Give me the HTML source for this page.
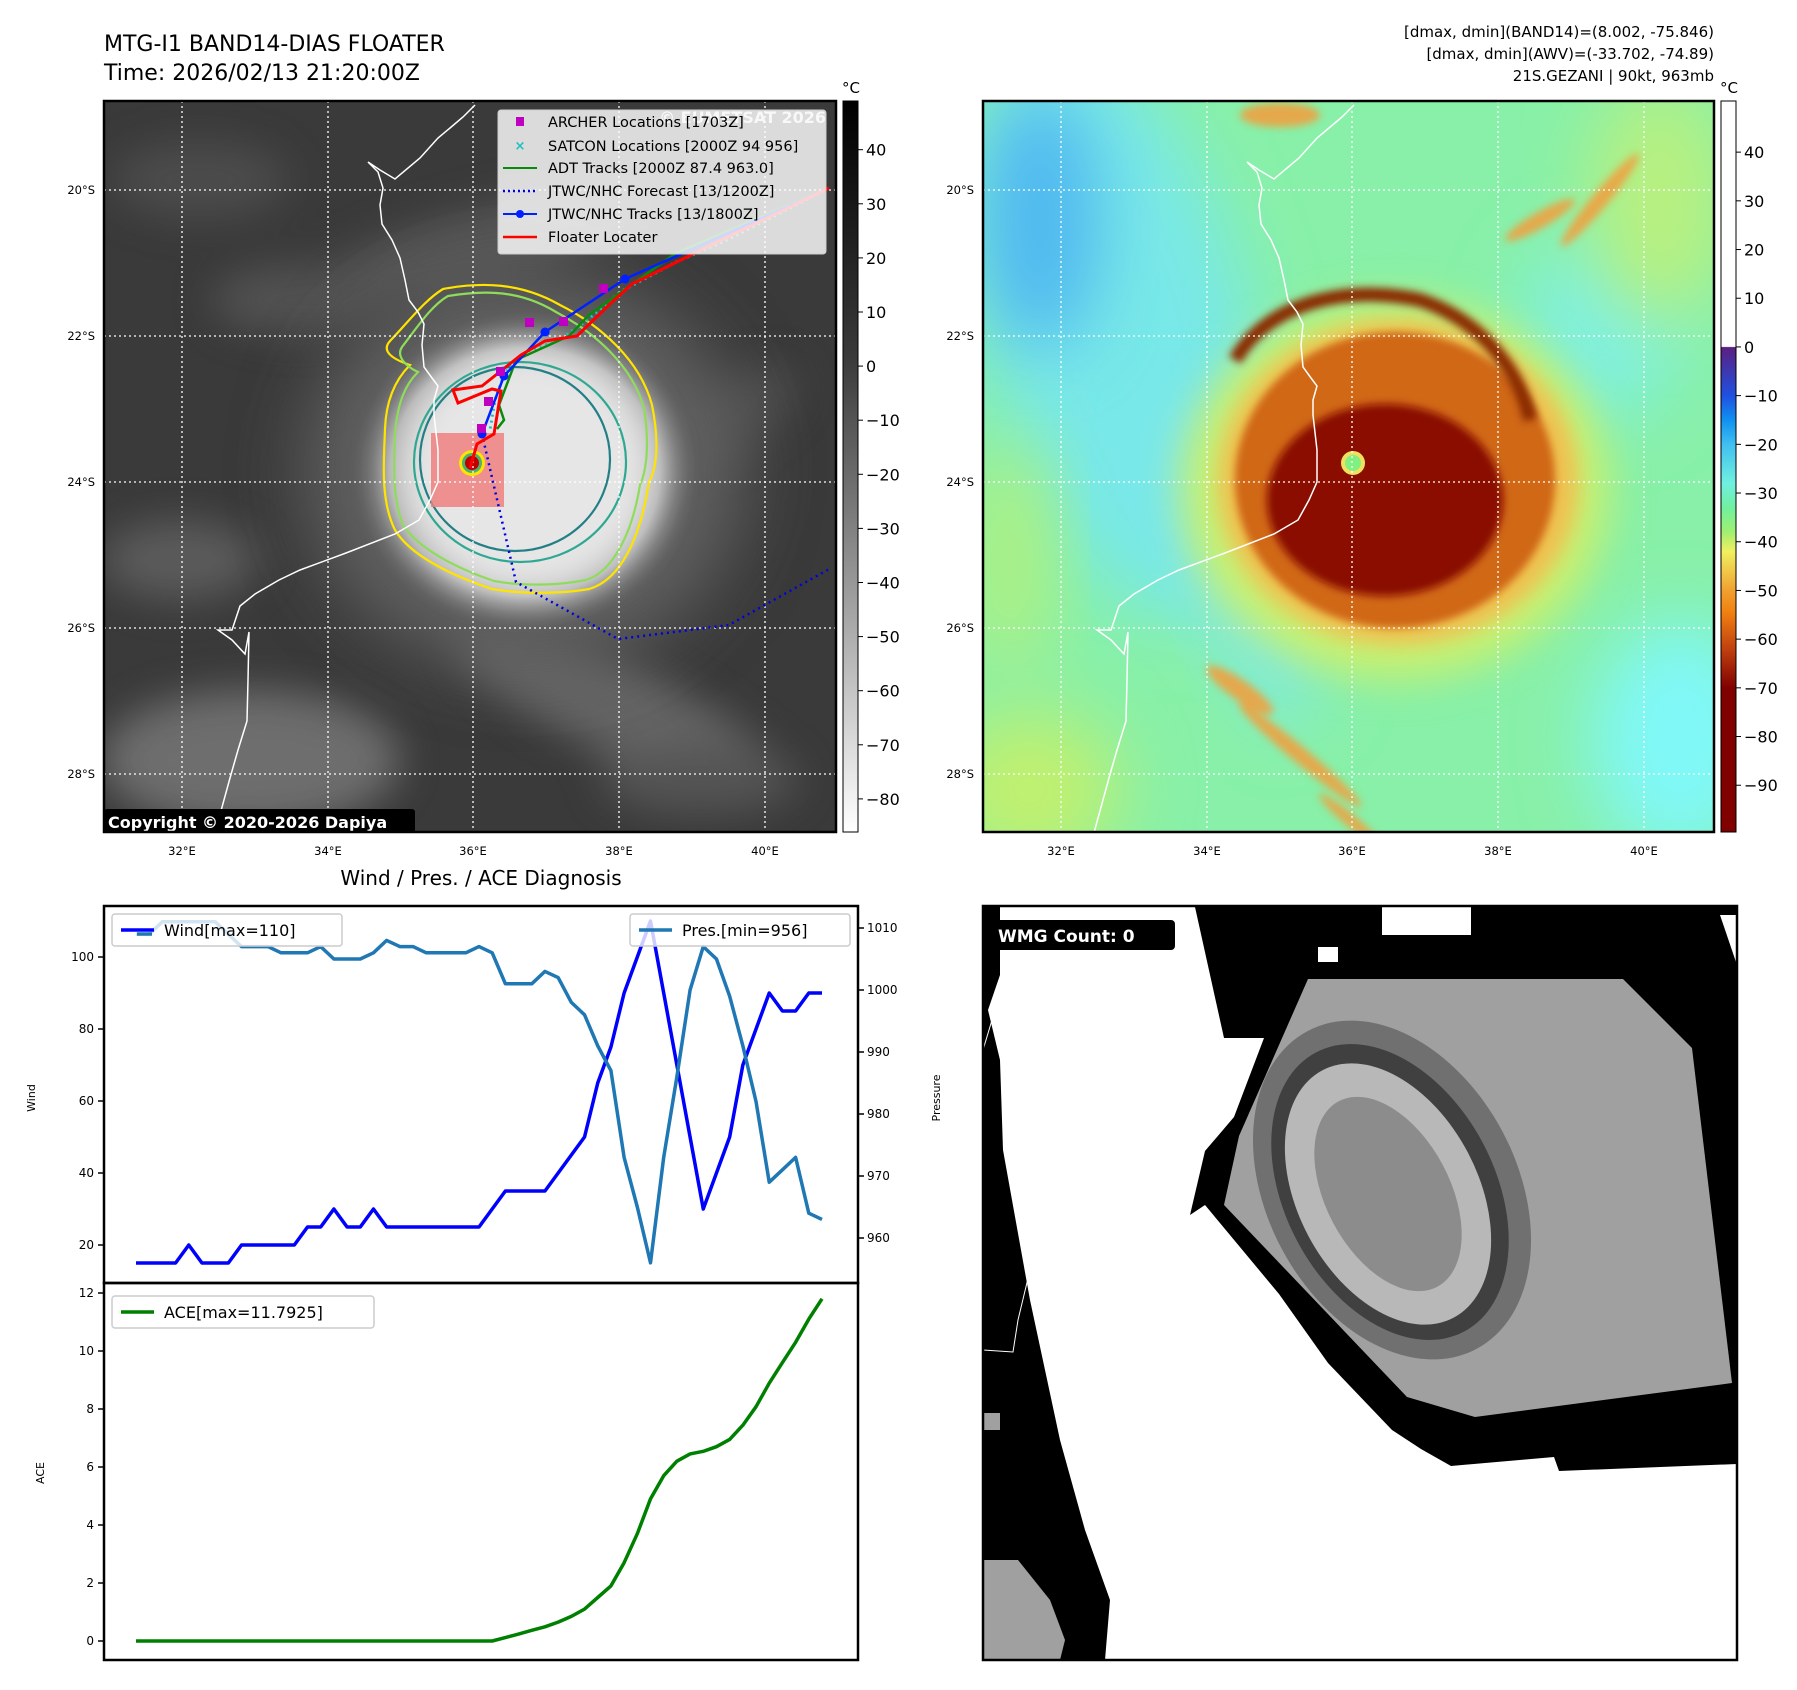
<!DOCTYPE html>
<html><head><meta charset="utf-8"><style>
html,body{margin:0;padding:0;background:#fff;}
svg{display:block;font-family:"DejaVu Sans","Liberation Sans",sans-serif;}
</style></head><body>
<svg id="root" width="1797" height="1690" viewBox="0 0 1797 1690" xmlns="http://www.w3.org/2000/svg">
<defs>
<filter id="b4" x="-50%" y="-50%" width="200%" height="200%"><feGaussianBlur stdDeviation="4"/></filter>
<filter id="b10" x="-50%" y="-50%" width="200%" height="200%"><feGaussianBlur stdDeviation="10"/></filter>
<filter id="b20" x="-50%" y="-50%" width="200%" height="200%"><feGaussianBlur stdDeviation="20"/></filter>
<filter id="b35" x="-50%" y="-50%" width="200%" height="200%"><feGaussianBlur stdDeviation="35"/></filter>
<linearGradient id="gcb" x1="0" y1="0" x2="0" y2="1"><stop offset="0" stop-color="#000"/><stop offset="0.35" stop-color="#3a3a3a"/><stop offset="1" stop-color="#fff"/></linearGradient>
<linearGradient id="ccb" x1="0" y1="0" x2="0" y2="1">
<stop offset="0" stop-color="#fff"/><stop offset="0.336" stop-color="#fff"/><stop offset="0.337" stop-color="#5a2080"/>
<stop offset="0.403" stop-color="#2050e0"/><stop offset="0.436" stop-color="#1090f0"/><stop offset="0.47" stop-color="#40c0f0"/>
<stop offset="0.523" stop-color="#70f0e0"/><stop offset="0.556" stop-color="#70f0a0"/><stop offset="0.59" stop-color="#a0f070"/>
<stop offset="0.616" stop-color="#f0f060"/><stop offset="0.67" stop-color="#f0a030"/><stop offset="0.70" stop-color="#f08010"/>
<stop offset="0.75" stop-color="#c04010"/><stop offset="0.803" stop-color="#800000"/><stop offset="1" stop-color="#800000"/></linearGradient>
<radialGradient id="storm" cx="0.5" cy="0.5" r="0.5"><stop offset="0" stop-color="#f0f0f0"/><stop offset="0.5" stop-color="#e2e2e2"/><stop offset="0.75" stop-color="#b0b0b0"/><stop offset="1" stop-color="#505050" stop-opacity="0"/></radialGradient>
<clipPath id="clipL"><rect x="104" y="101" width="732" height="731"/></clipPath>
<clipPath id="clipR"><rect x="983" y="101" width="731" height="731"/></clipPath>
<clipPath id="clipB"><rect x="983" y="906" width="754" height="754"/></clipPath>
<path id="coast" d="M475,105 L463,117 L450,128 L438,138 L420,158 L395,179 L380,170 L368,162 L378,172 L383,188 L380,205 L382,224 L392,240 L400,258 L405,280 L409,300 L418,312 L424,324 L422,345 L424,367 L432,378 L438,386 L434,400 L434,415 L438,450 L438,482 L430,500 L419,520 L395,534 L346,553 L300,570 L279,580 L255,594 L240,606 L232,630 L218,630 L232,640 L245,654 L249,632 L248,680 L247,721 L238,750 L230,778 L213,840" fill="none"/>
</defs>

<text x="104" y="51" font-size="22">MTG-I1 BAND14-DIAS FLOATER</text>
<text x="104" y="80" font-size="22">Time: 2026/02/13 21:20:00Z</text>
<g font-size="15" text-anchor="end">
<text x="1714" y="37">[dmax, dmin](BAND14)=(8.002, -75.846)</text>
<text x="1714" y="59">[dmax, dmin](AWV)=(-33.702, -74.89)</text>
<text x="1714" y="81">21S.GEZANI | 90kt, 963mb</text>
</g>

<!-- LEFT MAP -->
<g clip-path="url(#clipL)">
<rect x="104" y="101" width="732" height="731" fill="#3a3a3a"/>
<g filter="url(#b20)" opacity="0.55">
<ellipse cx="250" cy="760" rx="150" ry="70" fill="#999"/>
<ellipse cx="180" cy="560" rx="80" ry="40" fill="#777"/>
<ellipse cx="620" cy="710" rx="180" ry="45" fill="#888" transform="rotate(25 620 710)"/>
<ellipse cx="470" cy="250" rx="170" ry="40" fill="#6a6a6a" transform="rotate(-15 470 250)"/>
<ellipse cx="300" cy="300" rx="90" ry="35" fill="#666"/>
<ellipse cx="720" cy="420" rx="90" ry="35" fill="#5a5a5a" transform="rotate(-30 720 420)"/>
<ellipse cx="200" cy="180" rx="90" ry="40" fill="#5a5a5a"/>
<ellipse cx="700" cy="780" rx="100" ry="35" fill="#6a6a6a"/>
</g>
<ellipse cx="525" cy="470" rx="220" ry="200" fill="#606060" filter="url(#b35)"/>
<ellipse cx="525" cy="472" rx="180" ry="165" fill="url(#storm)"/>
<ellipse cx="528" cy="470" rx="120" ry="118" fill="#e6e6e6" filter="url(#b20)"/>
<g fill="none" stroke-width="2.2">
<path d="M443,289 C480,282 520,282 560,305 C600,325 640,360 652,405 C660,445 656,470 649,482 C640,540 620,580 589,589 C560,594 520,594 492,589 C450,575 410,555 395,530 C380,500 384,460 385,429 C386,400 395,380 410,365 C395,360 380,352 390,341 C410,320 425,300 443,289 Z" stroke="#ffe400"/>
<path d="M448,296 C485,290 520,290 556,312 C594,332 632,365 644,408 C650,447 646,472 640,485 C632,535 612,572 586,580 C556,586 520,586 494,581 C455,568 418,548 403,525 C392,498 394,462 395,432 C398,402 405,385 418,372 C405,366 396,356 402,347 C418,326 432,305 448,296 Z" stroke="#8fdc5a"/>
<ellipse cx="520" cy="462" rx="106" ry="100" stroke="#2fa892"/>
<ellipse cx="515" cy="459" rx="95" ry="92" stroke="#237f86"/>
</g>
<rect x="431" y="433" width="73" height="74" fill="#f08080" opacity="0.85"/>
<circle cx="472" cy="463" r="13" fill="#ffe400"/><circle cx="472" cy="463" r="10" fill="#4cb070"/><circle cx="472" cy="463" r="7" fill="#c00000"/>
<g stroke="#fff" stroke-width="1.3" stroke-dasharray="2,3">
<line x1="182" y1="101" x2="182" y2="832"/><line x1="328" y1="101" x2="328" y2="832"/><line x1="473" y1="101" x2="473" y2="832"/><line x1="619" y1="101" x2="619" y2="832"/><line x1="765" y1="101" x2="765" y2="832"/>
<line x1="104" y1="190" x2="836" y2="190"/><line x1="104" y1="336" x2="836" y2="336"/><line x1="104" y1="482" x2="836" y2="482"/><line x1="104" y1="628" x2="836" y2="628"/><line x1="104" y1="774" x2="836" y2="774"/>
</g>
<use href="#coast" stroke="#fff" stroke-width="1.5"/>
<polyline points="829,188 729,239 676,262 620,292 590,318 560,340 530,350 505,372 495,400 490,430" fill="none" stroke="#20c0c0" stroke-width="3" stroke-dasharray="2,4"/>
<polyline points="829,188 676,253 589,315 569,336 516,360 499,405 504,420 497,429" fill="none" stroke="#0a8a0a" stroke-width="2.5"/>
<polyline points="482,434 516,582 618,639 729,625 831,568" fill="none" stroke="#0000e0" stroke-width="2.5" stroke-dasharray="2,4"/>
<polyline points="829,188 625,279 545,332 504,376 482,434" fill="none" stroke="#0020ff" stroke-width="2.5"/>
<g fill="#0020ff"><circle cx="625" cy="279" r="4.5"/><circle cx="545" cy="332" r="4.5"/><circle cx="504" cy="376" r="4.5"/><circle cx="482" cy="434" r="4.5"/></g>
<polyline points="829,188 695,253 632,284 611,303 577,336 545,341 521,355 482,386 453,390 458,403 492,389 501,391 494,434 477,444 470,468" fill="none" stroke="#ff0000" stroke-width="3"/>
<g fill="#c000c0"><rect x="599" y="284" width="9" height="9"/><rect x="559" y="317" width="9" height="9"/><rect x="525" y="318" width="9" height="9"/><rect x="496" y="367" width="9" height="9"/><rect x="484" y="397" width="9" height="9"/><rect x="477" y="424" width="9" height="9"/></g>
<text x="826" y="123" font-size="16" font-weight="bold" fill="#d8d8d8" text-anchor="end">© EUMETSAT 2026</text>
<g>
<rect x="498" y="110" width="328" height="144" rx="3" fill="#fff" fill-opacity="0.82" stroke="#ccc"/>
<rect x="516" y="117" width="8" height="9" fill="#c000c0"/>
<text x="520" y="150" font-size="13" fill="#20c0c0" text-anchor="middle" font-weight="bold">×</text>
<line x1="503" y1="168" x2="537" y2="168" stroke="#0a8a0a" stroke-width="2"/>
<line x1="503" y1="191" x2="537" y2="191" stroke="#0000e0" stroke-width="2.5" stroke-dasharray="2,3"/>
<line x1="503" y1="214" x2="537" y2="214" stroke="#0020ff" stroke-width="2"/><circle cx="520" cy="214" r="4" fill="#0020ff"/>
<line x1="503" y1="237" x2="537" y2="237" stroke="#ff0000" stroke-width="2.5"/>
<g font-size="14.5" fill="#000">
<text x="548" y="127">ARCHER Locations [1703Z]</text>
<text x="548" y="151">SATCON Locations [2000Z 94 956]</text>
<text x="548" y="173">ADT Tracks [2000Z 87.4 963.0]</text>
<text x="548" y="196">JTWC/NHC Forecast [13/1200Z]</text>
<text x="548" y="219">JTWC/NHC Tracks [13/1800Z]</text>
<text x="548" y="242">Floater Locater</text>
</g></g>
<rect x="104" y="809" width="311" height="26" rx="3" fill="#000"/>
<text x="108" y="828" font-size="16" font-weight="bold" fill="#fff">Copyright © 2020-2026 Dapiya</text>
</g>
<rect x="104" y="101" width="732" height="731" fill="none" stroke="#000" stroke-width="2.5"/>
<g font-size="11.5" text-anchor="end">
<text x="95" y="194">20°S</text><text x="95" y="340">22°S</text><text x="95" y="486">24°S</text><text x="95" y="632">26°S</text><text x="95" y="778">28°S</text></g>
<g font-size="11.5" text-anchor="middle">
<text x="182" y="855">32°E</text><text x="328" y="855">34°E</text><text x="473" y="855">36°E</text><text x="619" y="855">38°E</text><text x="765" y="855">40°E</text></g>
<rect x="843" y="101" width="15" height="731" fill="url(#gcb)" stroke="#000" stroke-width="1"/>
<text x="851" y="93" font-size="15" text-anchor="middle">°C</text>
<g id="cbL" font-size="16"></g>

<!-- RIGHT MAP -->
<g clip-path="url(#clipR)">
<rect x="983" y="101" width="731" height="731" fill="#88f0a8"/>
<ellipse cx="1120" cy="330" rx="130" ry="300" fill="#78e8e8" filter="url(#b35)" transform="rotate(-15 1120 330)"/>
<ellipse cx="1040" cy="220" rx="60" ry="130" fill="#50b8f0" filter="url(#b35)"/>
<ellipse cx="1240" cy="560" rx="45" ry="170" fill="#80e8f0" filter="url(#b35)" transform="rotate(-20 1240 560)"/>
<ellipse cx="1680" cy="740" rx="90" ry="120" fill="#80f8f8" filter="url(#b35)"/>
<ellipse cx="1600" cy="330" rx="80" ry="90" fill="#80f0e0" filter="url(#b35)"/>
<ellipse cx="1030" cy="790" rx="90" ry="80" fill="#c0f070" filter="url(#b35)"/>
<ellipse cx="1660" cy="200" rx="70" ry="120" fill="#b8f080" filter="url(#b35)"/>
<ellipse cx="1010" cy="560" rx="40" ry="120" fill="#b0f080" filter="url(#b35)"/>
<g fill="#f0a040" filter="url(#b4)" opacity="0.9">
<ellipse cx="1300" cy="755" rx="80" ry="8" transform="rotate(40 1300 755)"/>
<ellipse cx="1240" cy="690" rx="40" ry="10" transform="rotate(35 1240 690)"/>
<ellipse cx="1350" cy="820" rx="40" ry="6" transform="rotate(40 1350 820)"/>
<ellipse cx="1600" cy="200" rx="60" ry="8" transform="rotate(-50 1600 200)"/>
<ellipse cx="1540" cy="220" rx="40" ry="8" transform="rotate(-30 1540 220)"/>
<ellipse cx="1280" cy="115" rx="40" ry="12"/>
</g>
<ellipse cx="1395" cy="490" rx="215" ry="190" fill="#c8f070" filter="url(#b20)"/>
<ellipse cx="1398" cy="482" rx="180" ry="162" fill="#f0c050" filter="url(#b10)"/>
<ellipse cx="1395" cy="480" rx="160" ry="148" fill="#d06818" filter="url(#b4)"/>
<path d="M1235,360 C1270,300 1350,285 1420,300 C1480,320 1520,370 1530,420" fill="none" stroke="#8a2a00" stroke-width="14" filter="url(#b4)"/>
<ellipse cx="1385" cy="500" rx="118" ry="96" fill="#8a0800" filter="url(#b4)"/>
<circle cx="1353" cy="463" r="12" fill="#f0e060"/><circle cx="1353" cy="463" r="8" fill="#80f080"/>
<g stroke="#fff" stroke-width="1.3" stroke-dasharray="2,3">
<line x1="1061" y1="101" x2="1061" y2="832"/><line x1="1207" y1="101" x2="1207" y2="832"/><line x1="1352" y1="101" x2="1352" y2="832"/><line x1="1498" y1="101" x2="1498" y2="832"/><line x1="1644" y1="101" x2="1644" y2="832"/>
<line x1="983" y1="190" x2="1714" y2="190"/><line x1="983" y1="336" x2="1714" y2="336"/><line x1="983" y1="482" x2="1714" y2="482"/><line x1="983" y1="628" x2="1714" y2="628"/><line x1="983" y1="774" x2="1714" y2="774"/>
</g>
<use href="#coast" transform="translate(879 0)" stroke="#fff" stroke-width="1.5"/>
</g>
<rect x="983" y="101" width="731" height="731" fill="none" stroke="#000" stroke-width="2.5"/>
<g font-size="11.5" text-anchor="end"><text x="974" y="194">20°S</text><text x="974" y="340">22°S</text><text x="974" y="486">24°S</text><text x="974" y="632">26°S</text><text x="974" y="778">28°S</text></g>
<g font-size="11.5" text-anchor="middle"><text x="1061" y="855">32°E</text><text x="1207" y="855">34°E</text><text x="1352" y="855">36°E</text><text x="1498" y="855">38°E</text><text x="1644" y="855">40°E</text></g>
<rect x="1721" y="101" width="15" height="731" fill="url(#ccb)" stroke="#000" stroke-width="1"/>
<text x="1729" y="93" font-size="15" text-anchor="middle">°C</text>
<g id="cbR" font-size="16"></g>

<text x="481" y="885" font-size="20" text-anchor="middle">Wind / Pres. / ACE Diagnosis</text>
<g id="chart"></g>

<!-- BOTTOM RIGHT -->
<g clip-path="url(#clipB)">
<rect x="983" y="906" width="754" height="754" fill="#fff"/>
<polygon points="1195,905 1737,905 1737,1464 1559,1471 1554,1457 1451,1466 1421,1449 1392,1430 1328,1363 1279,1294 1205,1205 1190,1215 1205,1151 1234,1117 1264,1038 1224,1038 1195,907" fill="#000"/>
<rect x="1382" y="905" width="89" height="30" fill="#fff"/><rect x="1318" y="947" width="20" height="15" fill="#fff"/>
<polygon points="1720,915 1737,915 1737,965" fill="#fff"/>
<polygon points="983,906 1000,906 1000,975 988,1010 1000,1060 1003,1150 1030,1300 1060,1440 1085,1530 1110,1600 1105,1660 983,1660" fill="#000"/>
<polygon points="983,1560 1018,1560 1050,1600 1065,1640 1060,1660 983,1660" fill="#a0a0a0"/>
<rect x="983" y="1413" width="17" height="17" fill="#a0a0a0"/>
<polygon points="1308,979 1623,979 1692,1048 1732,1383 1475,1417 1407,1397 1224,1205 1239,1136" fill="#a0a0a0"/>
<ellipse cx="1392" cy="1190" rx="180" ry="125" transform="rotate(62 1392 1190)" fill="#707070"/>
<ellipse cx="1390" cy="1192" rx="158" ry="105" transform="rotate(62 1390 1192)" fill="#404040"/>
<ellipse cx="1388" cy="1194" rx="140" ry="90" transform="rotate(62 1388 1194)" fill="#b8b8b8"/>
<ellipse cx="1388" cy="1194" rx="105" ry="62" transform="rotate(62 1388 1194)" fill="#8c8c8c"/>
<path d="M1020,920 L998,1000 L983,1050 M983,1350 L1013,1352 L1018,1320 L1030,1270 L1028,1210 L1040,1160" stroke="#fff" fill="none" stroke-width="1"/>
<rect x="991" y="920" width="184" height="30" rx="4" fill="#000"/>
<text x="998" y="942" font-size="17" font-weight="bold" fill="#fff">WMG Count: 0</text>
</g>
<rect x="983" y="906" width="754" height="754" fill="none" stroke="#000" stroke-width="2.5"/>

<script>
const windValues=[15,15,15,15,20,15,15,15,20,20,20,20,20,25,25,30,25,25,30,25,25,25,25,25,25,25,25,30,35,35,35,35,40,45,50,65,75,90,100,110,90,70,50,30,40,50,70,80,90,85,85,90,90];
const presValues=[1009,1009,1011,1011,1011,1011,1011,1009,1007,1007,1007,1006,1006,1006,1007,1005,1005,1005,1006,1008,1007,1007,1006,1006,1006,1006,1007,1006,1001,1001,1001,1003,1002,998,996,991,987,973,965,956,973,986,1000,1007,1005,999,991,982,969,971,973,964,963];
const aceValues=[0,0,0,0,0,0,0,0,0,0,0,0,0,0,0,0,0,0,0,0,0,0,0,0,0,0,0,0,0.12,0.24,0.37,0.49,0.65,0.85,1.1,1.5,1.9,2.7,3.7,4.9,5.7,6.2,6.45,6.54,6.7,6.95,7.44,8.08,8.89,9.6,10.3,11.1,11.8];
const windTicks=[20,40,60,80,100];
const presTicks=[960,970,980,990,1000,1010];
const aceTicks=[0,2,4,6,8,10,12];
const irTicks=[40,30,20,10,0,-10,-20,-30,-40,-50,-60,-70,-80];
const awvTicks=[40,30,20,10,0,-10,-20,-30,-40,-50,-60,-70,-80,-90];

const NS='http://www.w3.org/2000/svg';
function mk(tag,attrs,parent){const e=document.createElementNS(NS,tag);for(const k in attrs)e.setAttribute(k,attrs[k]);parent.appendChild(e);return e;}
const X=i=>136+i*(822-136)/(windValues.length-1);
const YW=v=>1245-(v-20)*3.6;
const YP=p=>928-(p-1010)*6.2;
const YA=v=>1641-v*29;
const yIR=v=>101+(49-v)*5.41;
const yAWV=v=>101+(50.5-v)*4.87;
const ch=document.getElementById('chart');

const cbL=document.getElementById('cbL');
irTicks.forEach(t=>{mk('line',{x1:858,x2:863,y1:yIR(t),y2:yIR(t),stroke:'#000'},cbL);const tx=mk('text',{x:866,y:yIR(t)+6},cbL);tx.textContent=String(t).replace('-','\u2212');

});
const cbR=document.getElementById('cbR');
awvTicks.forEach(t=>{mk('line',{x1:1736,x2:1741,y1:yAWV(t),y2:yAWV(t),stroke:'#000'},cbR);const tx=mk('text',{x:1744,y:yAWV(t)+6},cbR);tx.textContent=String(t).replace('-','\u2212');

});

mk('rect',{x:104,y:906,width:754,height:377,fill:'none',stroke:'#000','stroke-width':2.5},ch);
mk('rect',{x:104,y:1283,width:754,height:377,fill:'none',stroke:'#000','stroke-width':2.5},ch);

windTicks.forEach(t=>{mk('line',{x1:98,x2:104,y1:YW(t),y2:YW(t),stroke:'#000','stroke-width':1.5},ch);const tx=mk('text',{x:94,y:YW(t)+4,'font-size':12,'text-anchor':'end'},ch);tx.textContent=t;

});
presTicks.forEach(t=>{mk('line',{x1:858,x2:864,y1:YP(t),y2:YP(t),stroke:'#000','stroke-width':1.5},ch);const tx=mk('text',{x:867,y:YP(t)+4,'font-size':12},ch);tx.textContent=t;

});
aceTicks.forEach(t=>{mk('line',{x1:98,x2:104,y1:YA(t),y2:YA(t),stroke:'#000','stroke-width':1.5},ch);const tx=mk('text',{x:94,y:YA(t)+4,'font-size':12,'text-anchor':'end'},ch);tx.textContent=t;

});

let t1=mk('text',{x:0,y:0,'font-size':11,'text-anchor':'middle',transform:'translate(35 1098) rotate(-90)'},ch);t1.textContent='Wind';


let t2=mk('text',{x:0,y:0,'font-size':11,'text-anchor':'middle',transform:'translate(940 1098) rotate(-90)'},ch);t2.textContent='Pressure';


let t3=mk('text',{x:0,y:0,'font-size':11,'text-anchor':'middle',transform:'translate(44 1473) rotate(-90)'},ch);t3.textContent='ACE';



const pl=(vals,fy,col,name)=>{const p=mk('polyline',{points:vals.map((v,i)=>X(i)+','+fy(v)).join(' '),fill:'none',stroke:col,'stroke-width':3.5,'stroke-linejoin':'round'},ch);

};
pl(windValues,YW,'#0000ff','wind-line');
pl(presValues,YP,'#1f77b4','pressure-line');
pl(aceValues,YA,'#008000','ace-line');

const lg=(x,y,w,col,label,name)=>{const g=mk('g',{},ch);


mk('rect',{x:x,y:y,width:w,height:32,rx:3,fill:'#fff','fill-opacity':0.8,stroke:'#ccc','stroke-width':1.5},g);
mk('line',{x1:x+9,x2:x+42,y1:y+16,y2:y+16,stroke:col,'stroke-width':3.5},g);
const t=mk('text',{x:x+52,y:y+22,'font-size':16},g);t.textContent=label;};
lg(112,914,230,'#0000ff','Wind[max=110]','wind-legend');
mk('line',{x1:137,x2:152,y1:934,y2:934,stroke:'#1f77b4','stroke-width':3.5},ch);
lg(630,914,220,'#1f77b4','Pres.[min=956]','pressure-legend');
lg(112,1296,262,'#008000','ACE[max=11.7925]','ace-legend');
</script>
</svg>
</body></html>
